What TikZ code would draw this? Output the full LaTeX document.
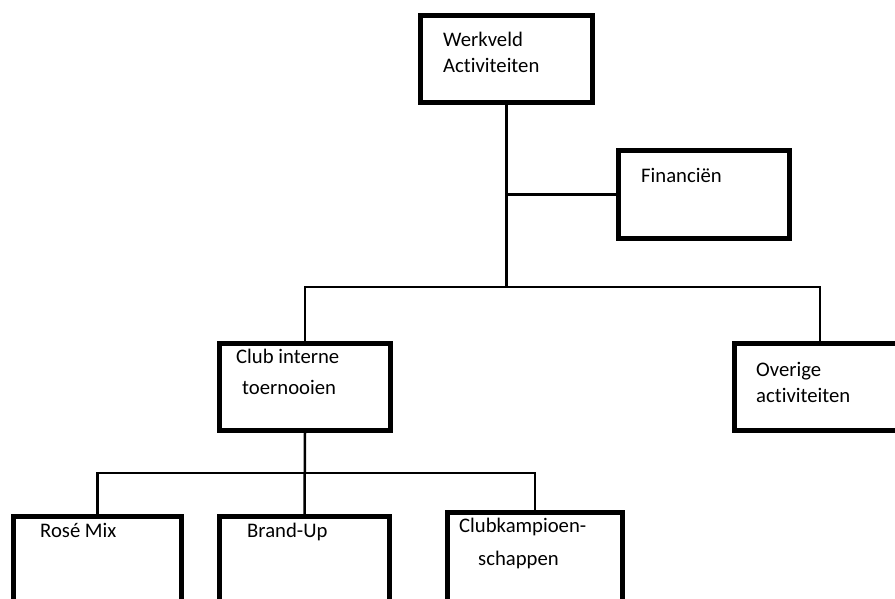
\documentclass[tikz,border=0pt]{standalone}
\usepackage{fontspec}
\setmainfont{Carlito}[Ligatures=NoCommon]
\begin{document}
\begin{tikzpicture}[x=1pt,y=-1pt,
  box/.style={draw=black,line width=5pt,inner sep=0pt,fill=white},
  conn/.style={draw=black,line width=2.5pt},
  lbl/.style={anchor=base west,inner sep=0pt,font=\fontsize{20.7}{24}\selectfont}]
\useasboundingbox (0,0) rectangle (895,599);
\clip (0,0) rectangle (895,599);
% boxes
\node[box,minimum width=172pt,minimum height=87pt] (top) at (506.5,59) {};
\node[box,minimum width=171pt,minimum height=88pt] (fin) at (704,194.5) {};
\node[box,minimum width=171pt,minimum height=87pt] (club) at (305,387) {};
\node[box,minimum width=172pt,minimum height=87pt] (over) at (820,387) {};
\node[box,minimum width=168pt,minimum height=110pt] (rose) at (97.5,571.5) {};
\node[box,minimum width=170pt,minimum height=110pt] (brand) at (304.5,571.5) {};
\node[box,minimum width=175pt,minimum height=114pt] (kamp) at (535,569.5) {};
% junctions
\coordinate (j1) at (top.south |- fin.west);
\coordinate (j2) at (top.south |- 0,287);
\coordinate (j3) at (club.south |- 0,473);
% connectors
\draw[conn] (top.south) -- (j2);
\draw[conn] (j1) -- (fin.west);
\draw[conn] (club.north) |- (j2) -| (over.north);
\draw[conn] (club.south) -- (brand.north);
\draw[conn] (rose.north) |- (j3) -| (kamp.north);
% labels
\node[lbl] at (443,47) {Werkveld};
\node[lbl] at (443,73) {Activiteiten};
\node[lbl] at (641,183) {Financiën};
\node[lbl] at (236,363) {Club interne};
\node[lbl] at (242,394) {toernooien};
\node[lbl] at (756,376) {Overige};
\node[lbl] at (756,402) {activiteiten};
\node[lbl] at (40,537) {Rosé Mix};
\node[lbl] at (247,537) {Brand-Up};
\node[lbl] at (459,532) {Clubkampioen-};
\node[lbl] at (478,565) {schappen};
\end{tikzpicture}
\end{document}
